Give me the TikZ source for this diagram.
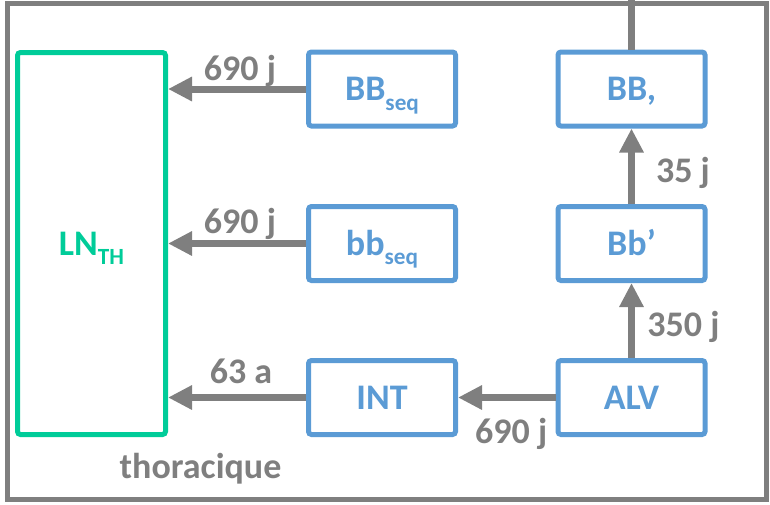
\documentclass[tikz,border=0pt]{standalone}
\usepackage{fontspec}
\setmainfont{Carlito}
\usetikzlibrary{arrows.meta, positioning}
\definecolor{boxblue}{HTML}{5B9BD5}
\definecolor{lngreen}{HTML}{00CC99}
\definecolor{flowgray}{HTML}{7F7F7F}
\tikzset{
	flow/.style={draw=flowgray, line width=3.5pt, -{Triangle[length=12pt,width=11.5pt]}},
	stem/.style={draw=flowgray, line width=3.5pt},
}
\newcommand{\lowsub}[1]{\raisebox{-4.75pt}[0pt][0pt]{\fontsize{11.6}{12}\selectfont #1}}

\begin{document}
\begin{tikzpicture}[
    x=0.5pt,
    y=-0.5pt,
    comp/.style={draw=boxblue, line width=2.5pt, rounded corners=1.5pt,
        minimum width=73.5pt, minimum height=37pt, inner sep=0pt,
        text=boxblue, font=\fontsize{18}{20}\selectfont\bfseries,
        text height=11.6pt, text depth=0pt},
    lnbox/.style={comp, draw=lngreen, text=lngreen,
        minimum width=74pt, minimum height=191pt},
    lbl/.style={text=flowgray, font=\fontsize{18}{20}\selectfont\bfseries,
        text height=11.6pt, text depth=0pt, inner sep=0pt},
    frame/.style={draw=flowgray, line width=2.5pt}
]
\useasboundingbox (0,0) rectangle (770,504);

% --- Frame ---
\draw[frame] (7.5,3) rectangle (766,499);

% --- Boxes ---
\node[lnbox] (LN) at (91.5,243.5) {LN\lowsub{TH}};

\node[comp] (BBseq) at (382,89) {BB\lowsub{seq}};
\node[comp] (bbseq) at (382,243.5) {bb\lowsub{seq}};
\node[comp] (INT) at (382,397.5) {INT};

\node[comp] (BBp) at (631.5,89) {BB,};
\node[comp] (Bbp) at (631.5,243.5) {Bb’};
\node[comp] (ALV) at (631.5,397.5) {ALV};

\node[lbl] (thor) at (200.5,466.5) {thoracique};

% --- Flows into LN ---
\draw[flow] (BBseq.west) -- (LN.east |- BBseq.west)
    node[lbl, midway, xshift=1.5pt, yshift=10.25pt] {690 j};

\draw[flow] (bbseq.west) -- (LN.east |- bbseq.west)
    node[lbl, midway, xshift=1.5pt, yshift=11pt] {690 j};

\draw[flow] (INT.west) -- (LN.east |- INT.west)
    node[lbl, midway, xshift=2pt, yshift=12.75pt] {63 a};

% --- Flows from ALV ---
\draw[flow] (ALV.west) -- (INT.east)
    node[lbl, midway, xshift=2.25pt, yshift=-17pt] {690 j};

\draw[flow] (ALV.north) -- (Bbp.south)
    node[lbl, midway, xshift=26pt, yshift=-2.25pt] {350 j};

\draw[flow] (Bbp.north) -- (BBp.south)
    node[lbl, midway, xshift=25.75pt, yshift=-2.5pt] {35 j};

% --- Stem out of the top ---
\coordinate (out) at (631.5,0);
\draw[stem] (BBp.north) -- (out);
\end{tikzpicture}
\end{document}
